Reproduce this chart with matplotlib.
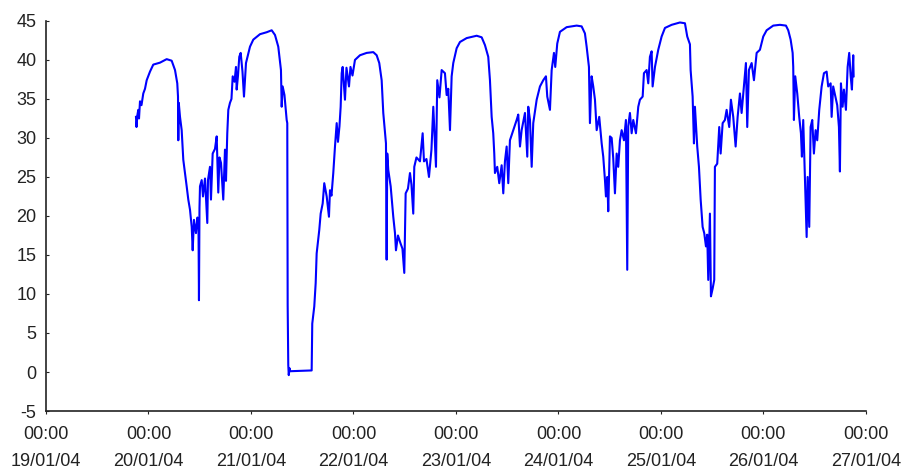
import numpy as np
import pandas as pd
import matplotlib
matplotlib.use("Agg")
import matplotlib.pyplot as plt
import matplotlib.dates as mdates

# hours after 19/01/04 00:00
hours = [
    21.07, 21.19, 21.42, 21.61, 21.78, 22.01, 22.36, 22.78, 23.18, 23.58,
    24.35, 25.12, 26.69, 28.26, 29.43, 30.21, 30.74, 30.91, 30.98, 31.09,
    31.38, 31.77, 32.15, 32.55, 32.94, 33.32, 33.72, 34.12, 34.35, 34.65,
    35.12, 35.47, 35.71, 35.82, 35.94, 36.06, 36.46, 36.76, 37.23, 37.77,
    37.93, 38.40, 38.63, 39.03, 39.57, 39.97, 40.34, 40.62, 40.98, 41.51,
    41.91, 42.15, 42.45, 42.69, 43.08, 43.43, 43.72, 44.14, 44.49, 44.65,
    44.96, 45.26, 45.59, 46.01, 46.36, 46.83, 47.77, 48.54, 50.11, 51.68,
    52.85, 53.62, 54.39, 55.02, 55.19, 55.42, 55.84, 56.36, 56.50, 56.59,
    56.73, 56.85, 57.01, 57.13, 62.21, 62.35, 62.82, 63.15, 63.38, 63.99,
    64.32, 64.79, 65.16, 65.73, 66.26, 66.50, 66.85, 67.27, 67.67, 68.07,
    68.37, 68.72, 69.00, 69.24, 69.47, 70.01, 70.36, 70.95, 71.30, 71.77,
    72.35, 73.52, 75.09, 76.64, 77.43, 78.04, 78.60, 78.98, 79.61, 79.77,
    79.91, 80.15, 80.71, 81.32, 81.72, 81.95, 82.42, 83.01, 83.47, 83.90,
    84.22, 84.76, 85.23, 85.58, 86.00, 86.24, 86.75, 87.57, 88.20, 88.51,
    89.09, 89.68, 90.26, 90.69, 91.32, 91.62, 92.14, 92.65, 93.42, 93.82,
    94.20, 94.60, 94.99, 95.37, 96.16, 96.94, 98.51, 100.85, 102.02, 102.79,
    103.56, 103.96, 104.36, 104.73, 104.97, 105.13, 105.67, 106.14, 106.70, 107.08,
    107.47, 107.87, 108.25, 108.64, 109.42, 110.21, 110.59, 110.99, 111.38, 112.16,
    112.70, 112.93, 113.33, 113.73, 114.10, 114.90, 115.67, 116.44, 117.07, 117.38,
    118.01, 118.41, 118.95, 119.25, 119.72, 120.35, 121.92, 124.26, 125.43, 126.20,
    126.60, 127.14, 127.37, 127.77, 128.15, 128.55, 128.95, 129.55, 130.12, 130.49,
    130.89, 131.12, 131.43, 131.66, 132.06, 132.46, 132.83, 133.23, 133.63, 134.00,
    134.40, 134.80, 135.34, 135.80, 136.11, 136.34, 136.74, 137.14, 137.52, 138.15,
    138.69, 139.08, 139.72, 140.02, 140.65, 141.03, 141.42, 141.82, 142.05, 142.60,
    143.37, 144.16, 144.94, 146.51, 148.45, 149.62, 150.16, 150.79, 150.95, 151.42,
    151.73, 151.96, 152.50, 152.90, 153.30, 153.76, 154.14, 154.54, 154.84, 155.08,
    155.47, 155.71, 156.11, 156.48, 156.64, 157.18, 157.65, 157.98, 158.45, 158.98,
    159.38, 159.99, 160.39, 160.93, 161.49, 161.96, 162.50, 162.89, 163.43, 163.90,
    164.21, 164.60, 165.24, 165.78, 166.41, 167.18, 167.96, 168.75, 170.30, 171.86,
    173.27, 173.81, 174.37, 174.84, 174.98, 175.14, 175.45, 175.92, 176.38, 176.78,
    177.01, 177.32, 177.72, 178.12, 178.35, 178.73, 179.05, 179.43, 179.82, 180.22,
    180.60, 181.07, 181.63, 182.17, 182.80, 183.17, 183.74, 183.97, 184.34, 184.98,
    185.28, 185.68, 185.91, 186.15, 186.54, 186.85, 187.32, 187.72, 188.09, 188.42,
    188.72, 189.03, 189.12,
]

values = [
    32.7, 31.4, 33.0, 33.6, 32.5, 34.7, 34.2, 35.7, 36.3, 37.4,
    38.5, 39.4, 39.65, 40.1, 39.9, 38.7, 37.0, 35.3, 29.7, 34.5,
    32.7, 31.0, 27.2, 25.5, 23.8, 22.1, 20.8, 18.6, 15.6, 19.5,
    17.8, 19.8, 18.5, 9.2, 21.0, 23.8, 24.6, 22.5, 24.8, 19.1,
    24.6, 26.3, 22.1, 28.0, 28.6, 30.2, 23.0, 27.5, 26.8, 22.1,
    28.5, 24.5, 30.6, 33.6, 34.5, 35.0, 37.9, 37.2, 39.1, 36.2,
    38.0, 40.4, 40.9, 38.5, 35.3, 39.6, 41.7, 42.6, 43.3, 43.55,
    43.8, 43.2, 41.7, 38.7, 34.0, 36.6, 35.5, 32.3, 31.9, 8.6,
    0.9, -0.4, 0.5, 0.1, 0.2, 6.2, 8.4, 11.4, 15.2, 18.2,
    20.3, 21.6, 24.2, 22.5, 19.9, 23.3, 22.6, 25.5, 28.9, 31.9,
    29.5, 31.5, 34.0, 38.3, 39.1, 34.9, 39.0, 36.6, 39.1, 38.0,
    40.0, 40.6, 40.9, 41.0, 40.6, 39.6, 37.4, 33.2, 29.3, 14.4,
    28.0, 25.9, 23.8, 19.9, 17.8, 15.6, 17.5, 16.5, 15.8, 12.7,
    22.9, 23.5, 25.5, 24.0, 20.3, 26.3, 27.5, 27.0, 30.6, 27.0,
    27.3, 25.0, 28.5, 34.0, 26.3, 37.4, 35.2, 38.7, 38.3, 35.5,
    36.3, 31.0, 37.9, 39.6, 41.5, 42.3, 42.8, 43.1, 42.9, 41.9,
    40.4, 37.4, 32.7, 30.6, 28.0, 25.5, 26.3, 24.2, 26.5, 22.9,
    27.0, 28.9, 24.2, 29.7, 31.0, 32.3, 33.0, 28.9, 31.0, 33.2,
    27.6, 34.0, 32.3, 26.3, 31.9, 34.9, 36.6, 37.4, 37.9, 35.3,
    33.6, 38.7, 40.9, 39.1, 42.1, 43.6, 44.2, 44.4, 44.3, 43.4,
    41.7, 39.1, 31.9, 37.9, 36.6, 34.9, 31.0, 32.7, 29.3, 27.6,
    24.6, 22.5, 25.0, 20.6, 30.2, 30.0, 27.4, 22.9, 28.0, 26.3,
    29.7, 31.0, 29.7, 32.3, 13.1, 31.5, 33.2, 30.6, 32.3, 30.6,
    34.0, 34.9, 35.3, 38.3, 38.7, 37.0, 40.4, 41.1, 36.6, 39.1,
    41.3, 43.0, 44.1, 44.5, 44.8, 44.7, 43.0, 42.0, 38.7, 35.3,
    29.3, 34.0, 28.9, 26.3, 22.1, 18.6, 17.8, 16.1, 17.6, 11.8,
    20.3, 9.7, 10.7, 11.8, 26.3, 26.7, 31.4, 28.0, 31.9, 32.3,
    33.6, 31.4, 34.9, 32.7, 28.9, 32.7, 35.7, 33.2, 36.6, 39.6,
    31.4, 38.7, 39.6, 37.4, 40.9, 41.3, 43.0, 43.8, 44.4, 44.5,
    44.4, 43.8, 42.6, 40.9, 39.1, 32.3, 37.9, 35.7, 32.7, 30.6,
    27.6, 32.3, 25.0, 17.3, 25.0, 18.6, 31.4, 32.3, 28.0, 31.0,
    29.7, 33.6, 36.6, 38.3, 38.5, 36.6, 37.0, 32.7, 36.6, 35.0,
    34.2, 31.4, 25.7, 37.0, 34.0, 36.2, 33.6, 39.1, 40.9, 38.0,
    36.2, 40.6, 37.9,
]

start = pd.Timestamp("2004-01-19 00:00")
times = start + pd.to_timedelta(hours, unit="h")

plt.rcParams["font.family"] = ["Liberation Sans", "DejaVu Sans"]
plt.rcParams["axes.unicode_minus"] = False

fig = plt.figure(figsize=(9.02, 4.7), dpi=100)
ax = fig.add_axes([0.051, 0.1255, 0.909, 0.830])

ax.plot(times, values, color="#0000ff", linewidth=1.5)

ax.set_ylim(-5, 45)
ax.set_yticks(np.arange(-5, 46, 5))
ax.set_xlim(start, start + pd.Timedelta(days=8))
ax.xaxis.set_major_locator(mdates.DayLocator())
ax.xaxis.set_major_formatter(mdates.DateFormatter("%H:%M\n%d/%m/%y"))

for side in ["top", "right"]:
    ax.spines[side].set_visible(False)
for side in ["left", "bottom"]:
    ax.spines[side].set_color("#222222")
    ax.spines[side].set_linewidth(1.2)

ax.tick_params(axis="y", direction="in", length=2, labelsize=13, pad=7, colors="#222222")
ax.tick_params(axis="x", direction="out", length=2, labelsize=13, pad=9, colors="#222222")
for lab in ax.get_xticklabels():
    lab.set_linespacing(1.75)

fig.savefig("out.png", dpi=100)
